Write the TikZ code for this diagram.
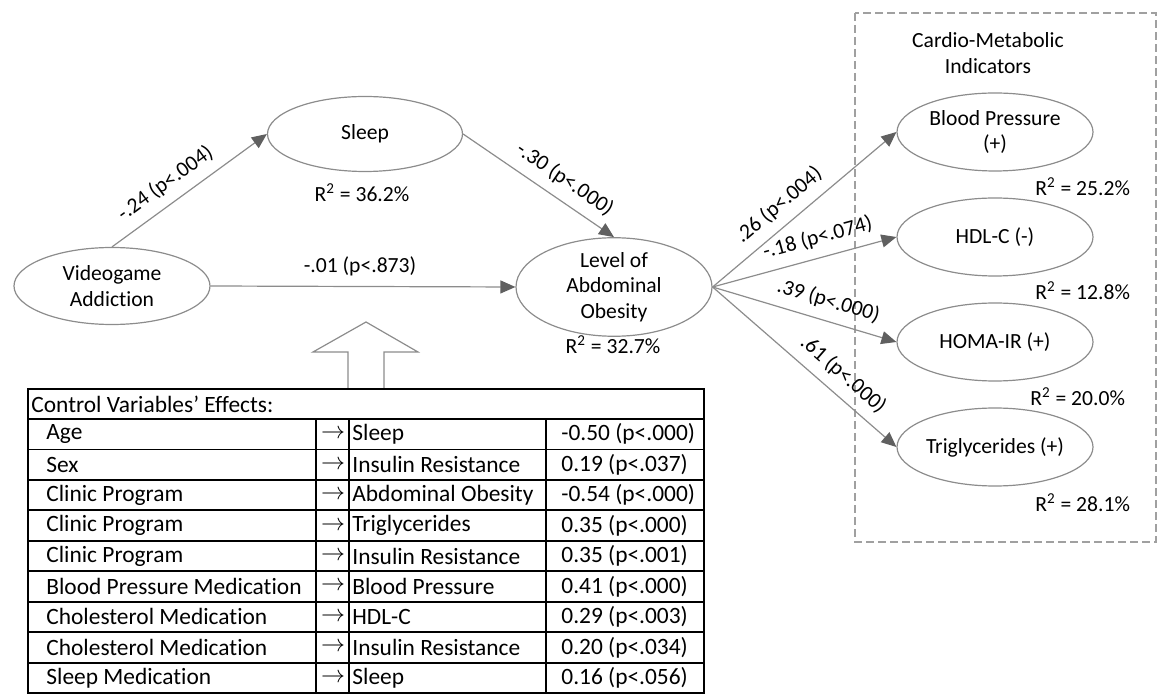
\documentclass[tikz,border=0pt]{standalone}
\usepackage{fontspec}
\setmainfont{Carlito}[Ligatures={TeX,NoCommon}]
\usetikzlibrary{arrows.meta,shapes.geometric}
\definecolor{linegray}{HTML}{8C8C8C}
\definecolor{tipgray}{HTML}{606060}
\definecolor{boxgray}{HTML}{A0A0A0}
\begin{document}
\begin{tikzpicture}[x=0.5pt,y=-0.5pt,
  every node/.style={font=\fontsize{10.8pt}{12.8pt}\selectfont},
  latent/.style={ellipse, draw=linegray, line width=0.6pt, align=center, inner sep=0pt, minimum width=98pt, minimum height=38.5pt},
  effect/.style={draw=linegray, line width=0.6pt, -{Triangle[length=7.5pt,width=6.5pt,color=tipgray]}},
  lbl/.style={sloped, above=1.5pt},
  tblline/.style={line width=0.9pt, black},
  cell/.style={inner sep=0pt, anchor=west, font=\fontsize{11.7pt}{13pt}\selectfont}]
\useasboundingbox (0,0) rectangle (1160,694);

\node[latent] (vga) at (112,286) {Videogame\\Addiction};
\node[latent, minimum width=97.5pt, minimum height=37.5pt] (sleep) at (365,134) {Sleep};
\node[latent, minimum height=38pt] (lvl) at (614,287) {Level of\\Abdominal\\Obesity};
\node (r2sleep) at (362,193) {R\textsuperscript{2} = 36.2\%};
\node (r2lvl) at (613,345) {R\textsuperscript{2} = 32.7\%};

\draw[dashed, dash pattern=on 4pt off 2pt, draw=boxgray, line width=0.6pt] (855,13) rectangle (1156,542);
\node[align=center] (cmi) at (988,53) {Cardio-Metabolic\\Indicators};
\node[latent, minimum width=98pt, minimum height=39pt] (bp) at (995,132) {Blood Pressure\\(+)};
\node[latent, minimum width=98pt, minimum height=39pt] (hdl) at (995,237) {HDL-C (-)};
\node[latent, minimum width=98pt, minimum height=39pt] (homa) at (995,342) {HOMA-IR (+)};
\node[latent, minimum width=98pt, minimum height=39pt] (trig) at (995,447) {Triglycerides (+)};
\node[anchor=east] (r2bp) at (1137,187) {R\textsuperscript{2} = 25.2\%};
\node[anchor=east] (r2hdl) at (1137,291) {R\textsuperscript{2} = 12.8\%};
\node[anchor=east] (r2homa) at (1132,397) {R\textsuperscript{2} = 20.0\%};
\node[anchor=east] (r2trig) at (1137,503) {R\textsuperscript{2} = 28.1\%};

\draw[effect] (vga.north) -- (sleep.west) node[lbl, pos=0.42] {-.24 (p<.004)};
\draw[effect] (sleep.east) -- (lvl.north) node[lbl, pos=0.6] {-.30 (p<.000)};
\draw[effect] (vga.east) -- (lvl.west) node[lbl, pos=0.49] {-.01 (p<.873)};
\draw[effect] (lvl.east) -- (bp.west) node[lbl, pos=0.43] {.26 (p<.004)};
\draw[effect] (lvl.east) -- (hdl.west) node[lbl, pos=0.6] {-.18 (p<.074)};
\draw[effect] (lvl.east) -- (homa.west) node[lbl, pos=0.6] {.39 (p<.000)};
\draw[effect] (lvl.east) -- (trig.west) node[lbl, pos=0.64] {.61 (p<.000)};

\draw[draw=linegray, line width=0.6pt] (348,389) -- (348,352) -- (313,352) -- (366,322) -- (418,352) -- (384,352) -- (384,389);

\draw[tblline] (28,389) rectangle (704,693);
\node[cell] (ctrl) at (31,404) {Control Variables’ Effects:};
\draw[tblline] (28,419) -- (704,419);
\foreach \x in {316,349,546}
  \draw[tblline] (\x,419) -- (\x,693);
\foreach \src/\dst/\val [count=\r] in {Age/Sleep/-0.50 (p<.000), Sex/Insulin Resistance/0.19 (p<.037),
    Clinic Program/Abdominal Obesity/-0.54 (p<.000), Clinic Program/Triglycerides/0.35 (p<.000),
    Clinic Program/Insulin Resistance/0.35 (p<.001), Blood Pressure Medication/Blood Pressure/0.41 (p<.000),
    Cholesterol Medication/HDL-C/0.29 (p<.003), Cholesterol Medication/Insulin Resistance/0.20 (p<.034),
    Sleep Medication/Sleep/0.16 (p<.056)} {
  \node[cell] (src\r) at (46,403.8+30.45*\r) {\src};
  \node[cell, anchor=center] (arr\r) at (333,403.8+30.45*\r) {$\rightarrow$};
  \node[cell] (dst\r) at (352,403.8+30.45*\r) {\dst};
  \node[cell] (val\r) at (561,403.8+30.45*\r) {\val};
  \draw[tblline] (28,419+30.45*\r) -- (704,419+30.45*\r);
}
\end{tikzpicture}
\end{document}
